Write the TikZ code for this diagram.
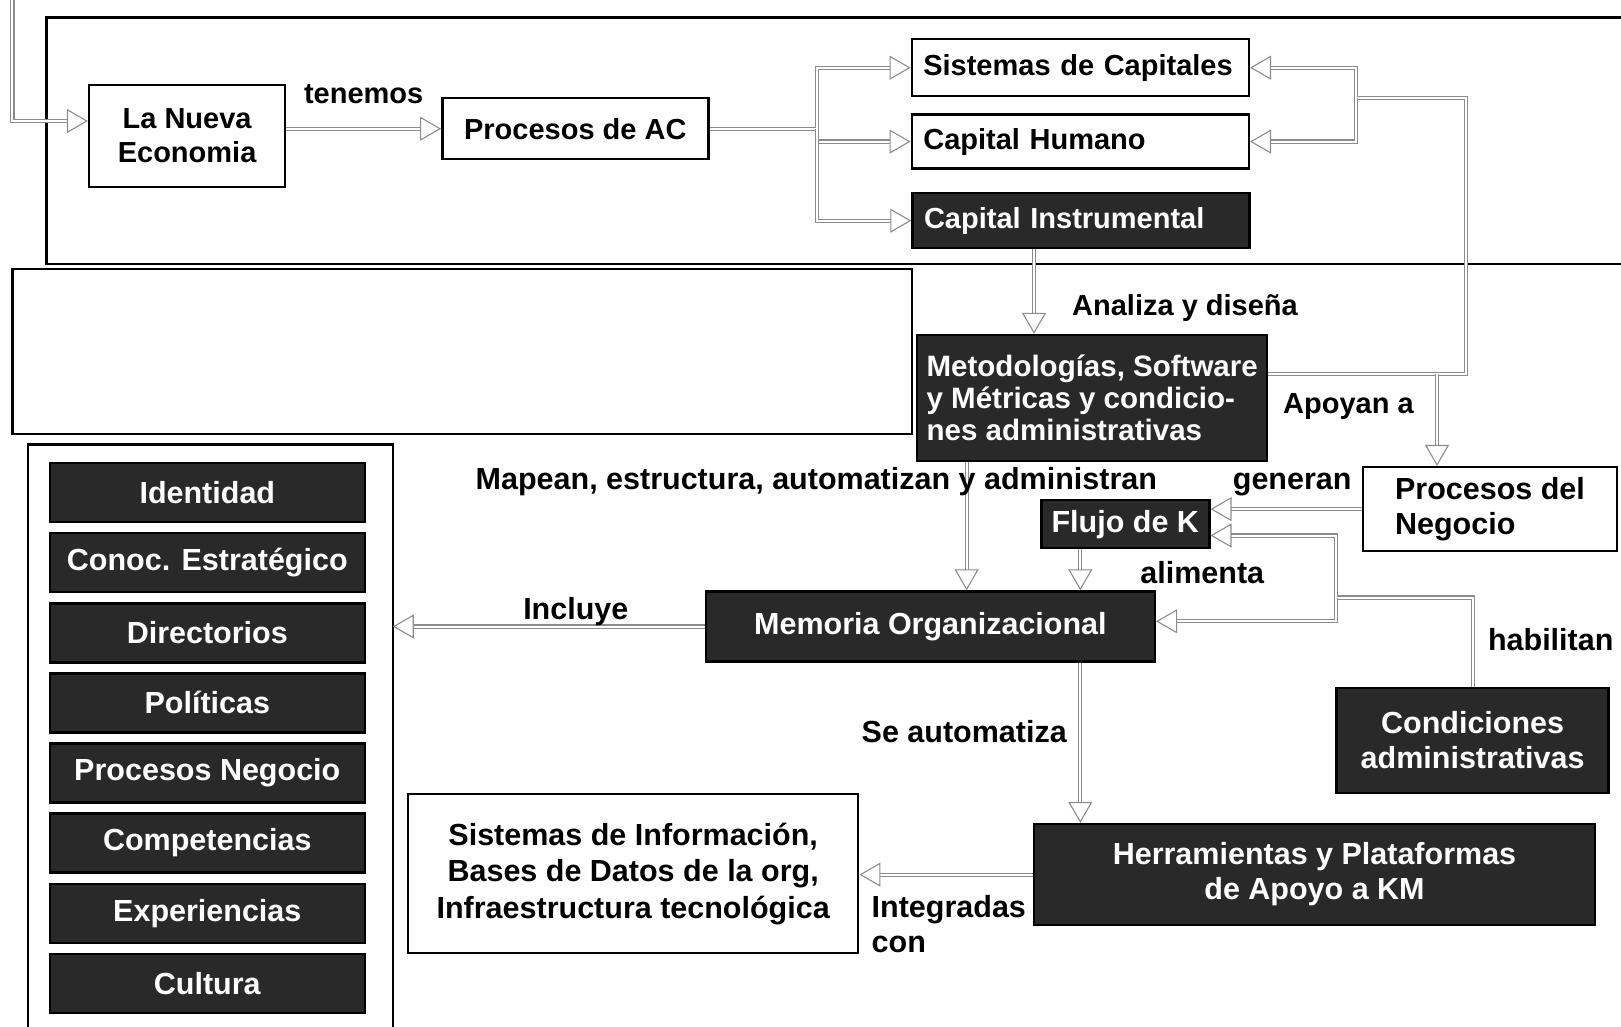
\documentclass[tikz,border=0pt]{standalone}
\usepackage{fontspec}
\setmainfont{Liberation Sans}
\usetikzlibrary{arrows.meta}
\usetikzlibrary{math}

\tikzset{
  topfont/.style={font=\bfseries\fontsize{29}{34}\selectfont},
  txt/.style={font=\bfseries\fontsize{30.5}{35}\selectfont},
  box/.style={draw=black, line width=2.4pt, fill=white, inner sep=0pt, align=center},
  dark/.style={fill=black!84, draw=black, text=white},
  capbox/.style={box, topfont, text width=314, inner xsep=11.5, align=left},
  frame/.style={draw=black, line width=2.2pt},
  conn/.style={draw=black!45, line width=1.1pt, double=white, double distance=2pt,
    -{Triangle[open,length=21pt,width=24pt]}},
  lbl/.style={txt, inner sep=0pt},
}

\begin{document}
\begin{tikzpicture}[x=1pt,y=-1pt]
\tikzmath{
\dy=70.1;
\yl=492.6;
}
\useasboundingbox (0,0) rectangle (1621,1027);
\fill[white] (0,0) rectangle (1621,1027);

 %frames:
 \draw[frame] (1621,17.6) -- (46.5,17.6) -- (46.5,263.6) -- (1621,263.6);
 \draw[frame] (12.4,268.8) rectangle (911.8,434.2);
 \draw[frame] (27.9,1027) -- (27.9,444.5) -- (392.8,444.5) -- (392.8,1027);

 %upper row
 \node[box, topfont, minimum width=196, minimum height=102] (LNE) at (187.1,136) {La Nueva\\Economia};
 \node[box, topfont, minimum width=266, minimum height=61] (PAC) at (575.3,128.7) {Procesos de AC};
 \node[capbox, minimum height=57] (SC) at (1080.3,67.7) {Sistemas de Capitales};
 \node[capbox, minimum height=54] (CH) at (1080.3,141.6) {Capital Humano};
 \node[capbox, dark, minimum height=55] (CI) at (1081,220.7) {Capital Instrumental};

 %middle
 \node[box, dark, font=\bfseries\fontsize{29.5}{32}\selectfont, align=left,
   minimum width=350, minimum height=126] (MET) at (1092.2,398)
   {Metodologías, Software\\y Métricas y condicio-\\nes administrativas};
 \node[box, txt, align=left, minimum width=254, minimum height=84] (PN) at (1490,509.1) {Procesos del\\Negocio};
 \node[box, dark, txt, minimum width=168, minimum height=48] (FK) at (1125.3,524.2) {Flujo de K};
 \node[box, dark, txt, minimum width=449, minimum height=70] (MO) at (930.4,626.5) {Memoria Organizacional};
 \node[box, dark, txt, minimum width=272, minimum height=105] (CA) at (1472.6,740.2) {Condiciones\\administrativas};

 %bottom
 \node[box, dark, txt, minimum width=561, minimum height=101] (HP) at (1314.5,874.6) {Herramientas y Plataformas\\de Apoyo a KM};
 \node[box, font=\bfseries\fontsize{30.5}{36.5}\selectfont, minimum width=450, minimum height=159] (SI) at (633.2,873.6)
   {Sistemas de Información,\\Bases de Datos de la org,\\Infraestructura tecnológica};

 %memory list
 \foreach \t [count=\i from 0] in {Identidad, Conoc. Estratégico, Directorios, Políticas,
   Procesos Negocio, Competencias, Experiencias, Cultura}
   \node[box, dark, txt, minimum width=315, minimum height=59] (item\i) at (207.3,{\yl+\dy*\i}) {\t};

 %helper points
 \coordinate (in) at (12.4,0);
 \coordinate (inY) at (0,121);
 \coordinate (brA) at (816.7,0);
 \coordinate (brB) at (1356.3,98.2);
 \coordinate (brC) at (1465.9,0);
 \coordinate (apY) at (0,374);
 \coordinate (pnX) at (1437,0);
 \coordinate (ciX) at (1034,0);
 \coordinate (meX) at (966.6,0);
 \coordinate (fkX) at (1080.3,0);
 \coordinate (hbJ) at (1335.7,597.5);
 \coordinate (fkY) at (0,535.5);
 \coordinate (moY) at (0,621.3);
 \coordinate (lstE) at (392.8,0);

 %connectors
 \draw[conn] (in) |- (LNE.west |- inY);
 \draw[conn] (LNE.east |- PAC.west) -- (PAC.west) node[midway, above=24pt, topfont, inner sep=0pt]{tenemos};
 \draw[conn] (PAC.east) -- (PAC.east -| brA) |- (SC.west);
 \draw[conn] (PAC.east -| brA) |- (CH.west);
 \draw[conn] (PAC.east -| brA) |- (CI.west);

 \draw[conn] (MET.east |- apY) -| (brC |- brB) -- (brB) |- (SC.east);
 \draw[conn] (brB) |- (CH.east);
 \draw[conn] (pnX |- apY) -- (pnX |- PN.north);

 \draw[conn] (ciX |- CI.south) -- (ciX |- MET.north);
 \draw[conn] (meX |- MET.south) -- (meX |- MO.north);
 \draw[conn] (fkX |- FK.south) -- (fkX |- MO.north);
 \draw[conn] (PN.west) -- (FK.east |- PN.west);
 \draw[conn] (CA.north) |- (hbJ) |- (FK.east |- fkY);
 \draw[conn] (hbJ) |- (MO.east |- moY);
 \draw[conn] (MO.west) -- (MO.west -| lstE);
 \draw[conn] (fkX |- MO.south) -- (fkX |- HP.north);
 \draw[conn] (HP.west) -- (SI.east |- HP.west);

 %labels
 \node[lbl, topfont, anchor=west] (lAn) at (1072,308) {Analiza y diseña};
 \node[lbl, topfont, anchor=west] (lAp) at (1283,407) {Apoyan a};
 \node[lbl, anchor=west] (lMa) at (475.5,482) {Mapean, estructura, automatizan y administran};
 \node[lbl] (lGe) at (1292.2,485) {generan};
 \node[lbl] (lAl) at (1202.3,572.5) {alimenta};
 \node[lbl] (lHa) at (1550.7,639.5) {habilitan};
 \node[lbl] (lIn) at (575.8,612) {Incluye};
 \node[lbl, anchor=east] (lSe) at (1067,732) {Se automatiza};
 \node[lbl, anchor=north west, align=left] (lIg) at (871.5,895) {Integradas\\con};
\end{tikzpicture}
\end{document}
